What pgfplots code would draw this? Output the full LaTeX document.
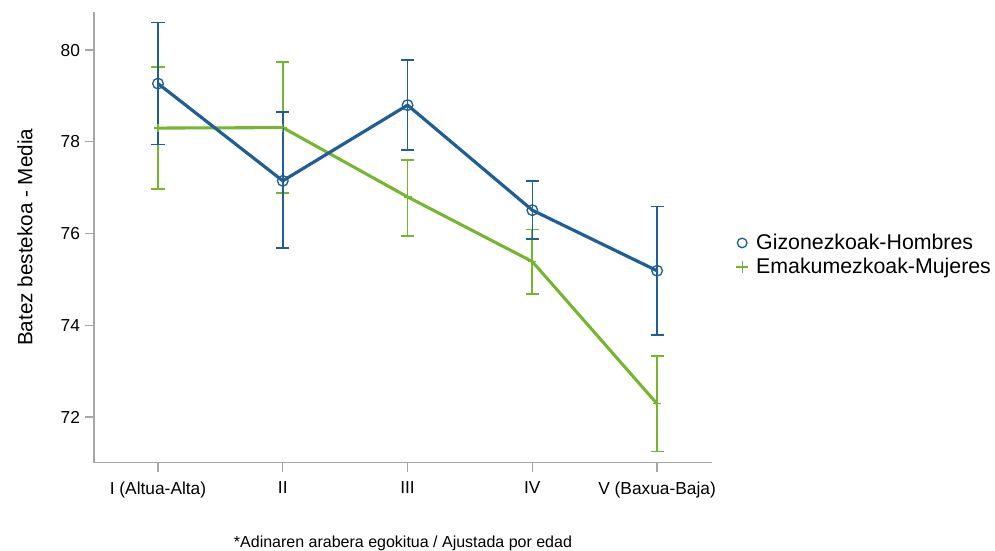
\documentclass[border=0pt]{standalone}
\usepackage{pgfplots}
\pgfplotsset{compat=1.18}
\usepackage{pgfplotstable}
\usepackage{fontspec}
\setmainfont{Liberation Sans}
\definecolor{cblue}{HTML}{1F5F96}
\definecolor{cgreen}{HTML}{74B72E}
\definecolor{axgray}{HTML}{A6A6A6}

\pgfplotstableread{
x y ep em
0 79.27 1.33 1.33
1 77.15 1.50 1.46
2 78.80 0.98 0.98
3 76.51 0.64 0.63
4 75.19 1.40 1.40
}\men
\pgfplotstableread{
x y ep em
0 78.30 1.33 1.33
1 78.31 1.43 1.43
2 76.80 0.81 0.85
3 75.39 0.70 0.71
4 72.29 1.04 1.04
}\women

\begin{document}
\begin{tikzpicture}
\useasboundingbox (-70.5pt,-65.6pt) rectangle (675.75pt,346.9pt);
\begin{axis}[
  at={(0pt,0pt)}, anchor=south west,
  scale only axis, width=463.5pt, height=337.9pt,
  xmin=-0.513, xmax=4.44, ymin=71.01, ymax=80.83,
  axis x line*=bottom, axis y line*=left,
  axis line style={draw=axgray, line width=1.1pt, -},
  xtick={0,1,2,3,4},
  xticklabels={I (Altua-Alta),II,III,IV,V (Baxua-Baja)},
  ytick={72,74,76,78,80},
  tick align=outside, major tick length=7pt,
  tick style={draw=axgray, line width=1pt},
  /pgf/number format/assume math mode=true,
  ticklabel style={font=\fontsize{13}{16}\selectfont},
  xticklabel style={yshift=-4pt},
  ylabel={Batez bestekoa - Media},
  ylabel style={font=\fontsize{15.5}{18}\selectfont, at={(rel axis cs:-0.1117,0.5)}, anchor=center},
  clip=false,
  legend style={at={(rel axis cs:1.0387,0.4606)}, anchor=west, draw=none, fill=none, inner sep=0pt,
    font=\fontsize{16}{19}\selectfont, row sep=1pt},
  legend cell align=left,
  /tikz/every odd column/.append style={column sep=4pt},
]
\addplot[forget plot, cgreen, line width=2.3pt, mark=+, mark size=3pt, mark options={line width=1pt},
  error bars/.cd, y dir=both, y explicit,
  error bar style={line width=1.3pt, draw=cgreen},
  error mark options={line width=1.2pt, mark size=4.9pt, rotate=90, draw=cgreen}]
  table[x=x, y=y, y error plus=ep, y error minus=em] {\women};
\addplot[forget plot, cblue, line width=2.4pt, mark=o, mark size=4pt, mark options={line width=1pt, fill=none},
  error bars/.cd, y dir=both, y explicit,
  error bar style={line width=1.1pt, draw=cblue},
  error mark options={line width=1.1pt, mark size=4.9pt, rotate=90, draw=cblue}]
  table[x=x, y=y, y error plus=ep, y error minus=em] {\men};
\addlegendimage{only marks, mark=o, cblue, mark size=3.6pt, line width=1pt}
\addlegendentry{Gizonezkoak-Hombres}
\addlegendimage{only marks, mark=+, cgreen, mark size=4.5pt, line width=1pt}
\addlegendentry{Emakumezkoak-Mujeres}
\node[font=\fontsize{12}{14}\selectfont] at (rel axis cs:0.5,0) [yshift=-60.5pt] {*Adinaren arabera egokitua / Ajustada por edad};
\end{axis}
\end{tikzpicture}
\end{document}
